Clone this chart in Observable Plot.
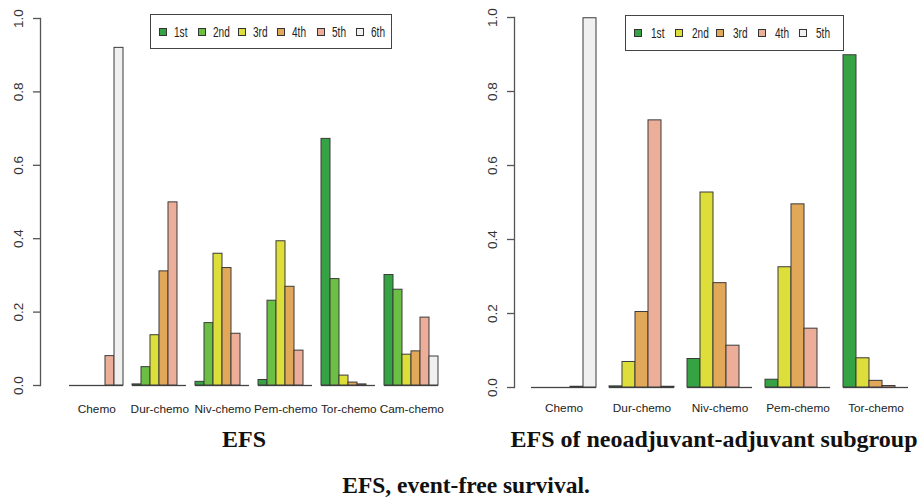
<!DOCTYPE html>
<html><head><meta charset="utf-8">
<script src="https://cdn.jsdelivr.net/npm/d3@7"></script>
<script src="https://cdn.jsdelivr.net/npm/@observablehq/plot@0.6"></script>
<style>
html,body{margin:0;padding:0;background:#fff;}
body{width:919px;height:499px;overflow:hidden;position:relative;font-family:"Liberation Sans",Arial,sans-serif;}
.panel{position:absolute;top:0;}
.panel svg{overflow:visible;max-width:none;}
.title{position:absolute;font-family:"Liberation Serif","Times New Roman",serif;font-weight:bold;color:#111;text-align:center;white-space:nowrap;}
.legend{position:absolute;border:1.5px solid #444;box-sizing:border-box;background:#fff;}
.legend .item{position:absolute;top:0;height:100%;display:flex;align-items:center;}
.legend .sw{width:8px;height:8px;border:1px solid #333;box-sizing:border-box;}
.legend .lb{font-size:14px;color:#222;transform:scaleX(0.72);transform-origin:left center;margin-left:var(--gap);}
</style></head><body>
<div id="left" class="panel" style="left:0px"></div>
<div id="right" class="panel" style="left:460px"></div>
<script>
// ---------- data: EFS (all patients) ----------
const ranksA = ["1st","2nd","3rd","4th","5th","6th"];
const colorsA = ["#35a343","#6cbf45","#dede3a","#e1a85a","#ecae99","#f0f0f0"];
const categoriesA = ["Chemo","Dur-chemo","Niv-chemo","Pem-chemo","Tor-chemo","Cam-chemo"];
const efsChemo = [0, 0, 0, 0, 0.080, 0.920];
const efsDur   = [0.003, 0.050, 0.137, 0.311, 0.499, 0];
const efsNiv   = [0.010, 0.170, 0.359, 0.320, 0.141, 0];
const efsPem   = [0.015, 0.231, 0.393, 0.269, 0.095, 0];
const efsTor   = [0.672, 0.290, 0.027, 0.008, 0.003, 0];
const efsCam   = [0.301, 0.261, 0.084, 0.093, 0.185, 0.079];

// ---------- data: EFS of neoadjuvant-adjuvant subgroup ----------
const ranksB = ["1st","2nd","3rd","4th","5th"];
const colorsB = ["#35a343","#dede3a","#e1a85a","#ecae99","#f0f0f0"];
const categoriesB = ["Chemo","Dur-chemo","Niv-chemo","Pem-chemo","Tor-chemo"];
const subChemo = [0, 0, 0, 0.002, 0.998];
const subDur   = [0.003, 0.069, 0.204, 0.722, 0.002];
const subNiv   = [0.077, 0.527, 0.282, 0.113, 0];
const subPem   = [0.021, 0.325, 0.495, 0.159, 0];
const subTor   = [0.898, 0.079, 0.018, 0.004, 0];

const yTicks = [0, 0.2, 0.4, 0.6, 0.8, 1.0];
const titleA = "EFS";
const titleB = "EFS of neoadjuvant-adjuvant subgroup";
const caption = "EFS, event-free survival.";

function panel(o) {
  const {cats, ranks, colors, series} = o;
  const rows = cats.flatMap((c, i) => ranks.map((r, j) => ({key: `${c}|${r}`, cat: c, rank: r, value: series[i][j]})));
  const domain = cats.flatMap((c, i) => [...(i ? [`gap|${i}`] : []), ...ranks.map(r => `${c}|${r}`)]);
  const innerW = o.width - o.marginLeft - o.marginRight - o.insetLeft - o.insetRight;
  const bw = innerW / domain.length;
  const mid = (ranks.length - 1) / 2;
  const midRank = ranks[Math.floor(mid)];
  const midDx = (mid - Math.floor(mid)) * bw;
  return Plot.plot({
    width: o.width, height: o.height,
    marginLeft: o.marginLeft, marginRight: o.marginRight, marginTop: o.marginTop, marginBottom: o.marginBottom,
    style: {background: "transparent", overflow: "visible", fontFamily: "'Liberation Sans', Arial, sans-serif"},
    x: {type: "band", domain, padding: 0, insetLeft: o.insetLeft, insetRight: o.insetRight, axis: null},
    y: {domain: [0, 1], insetTop: o.inset, insetBottom: o.inset, label: null},
    color: {domain: ranks, range: colors},
    marks: [
      Plot.frame({anchor: "left", insetTop: o.inset, insetBottom: o.inset, stroke: "#555", strokeWidth: 1.3}),
      Plot.axisY({ticks: yTicks, tickSize: 7, tickFormat: () => "", stroke: "#555", strokeWidth: 1.3, label: null}),
      Plot.text(yTicks, {y: d => d, text: d3.format(".1f"), frameAnchor: "left", rotate: -90, dx: -22,
        textAnchor: "middle", lineAnchor: "middle", fontSize: 13.5, fill: "#333"}),
      Plot.tickY(rows, {x: "key", y: () => 0, stroke: "#444", strokeWidth: 1.3}),
      Plot.barY(rows.filter(d => d.value > 0), {x: "key", y: "value", fill: "rank", stroke: "#3a3a3a", strokeWidth: 1}),
      Plot.text(cats, {x: c => `${c}|${midRank}`, text: d => d, frameAnchor: "bottom", dx: midDx, dy: o.labelDy,
        textAnchor: "middle", lineAnchor: "middle", fontSize: 11.8, fill: "#222"})
    ]
  });
}

document.getElementById("left").append(panel({
  cats: categoriesA, ranks: ranksA, colors: colorsA,
  series: [efsChemo, efsDur, efsNiv, efsPem, efsTor, efsCam],
  width: 466, height: 420, marginLeft: 40, marginRight: 2, marginTop: 3, marginBottom: 20,
  insetLeft: 17, insetRight: 15, inset: 15, labelDy: 8.5
}));
document.getElementById("right").append(panel({
  cats: categoriesB, ranks: ranksB, colors: colorsB,
  series: [subChemo, subDur, subNiv, subPem, subTor],
  width: 466, height: 420, marginLeft: 54, marginRight: 0, marginTop: 2, marginBottom: 18,
  insetLeft: 14, insetRight: 15, inset: 15, labelDy: 6
}));

function legend(ranks, colors, box) {
  const el = document.createElement("div");
  el.className = "legend";
  Object.assign(el.style, {left: box.left + "px", top: box.top + "px", width: box.width + "px", height: box.height + "px"});
  ranks.forEach((r, i) => {
    const it = document.createElement("div");
    it.className = "item";
    it.style.left = (box.pad + i * box.stride) + "px";
    it.style.setProperty("--gap", box.gap + "px");
    const sw = document.createElement("div");
    sw.className = "sw"; sw.style.background = colors[i];
    const lb = document.createElement("span");
    lb.className = "lb"; lb.textContent = r;
    it.append(sw, lb);
    el.append(it);
  });
  document.body.append(el);
}
legend(ranksA, colorsA, {left: 150, top: 14, width: 242, height: 35, pad: 8, stride: 39.4, gap: 7});
legend(ranksB, colorsB, {left: 625, top: 15, width: 219, height: 36, pad: 8, stride: 41.2, gap: 9});

function title(text, cx, top, size) {
  const d = document.createElement("div");
  d.className = "title"; d.textContent = text;
  Object.assign(d.style, {left: (cx - 300) + "px", width: "600px", top: top + "px", fontSize: size + "px", lineHeight: size + "px"});
  document.body.append(d);
}
title(titleA, 244, 427, 24);
title(titleB, 714, 427, 24);
title(caption, 466, 474, 23.5);
</script>
</body></html>
